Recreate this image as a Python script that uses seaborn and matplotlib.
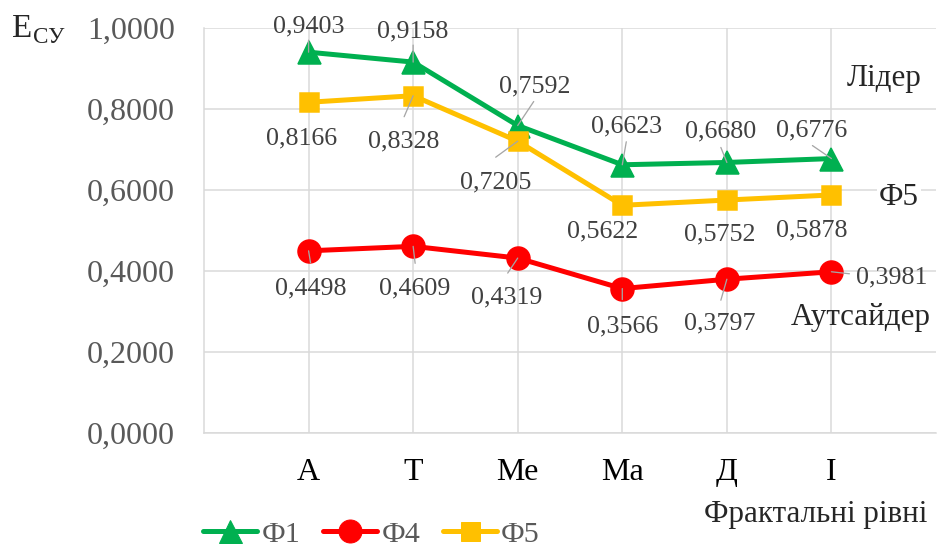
import matplotlib
matplotlib.use("Agg")
import matplotlib.pyplot as plt
from matplotlib.lines import Line2D
import seaborn as sns
import pandas as pd

# fractal levels (x categories)
levels = ["А", "Т", "Ме", "Ма", "Д", "І"]

# series values
f1 = [0.9403, 0.9158, 0.7592, 0.6623, 0.6680, 0.6776]
f4 = [0.4498, 0.4609, 0.4319, 0.3566, 0.3797, 0.3981]
f5 = [0.8166, 0.8328, 0.7205, 0.5622, 0.5752, 0.5878]

series_names = ["Ф1", "Ф4", "Ф5"]
y_ticks = [0.0, 0.2, 0.4, 0.6, 0.8, 1.0]

# styles
colors = {"Ф1": "#00B050", "Ф4": "#FF0000", "Ф5": "#FFC000"}
markers = {"Ф1": "^", "Ф4": "o", "Ф5": "s"}
msizes = {"Ф1": 23, "Ф4": 23, "Ф5": 19}

# data label offsets (px, baseline) and leader line ends (px) or None
label_pos = {
    "Ф1": [(0, 20), (0, 25), (17, 33), (4, 32), (-6, 25), (-20, 22)],
    "Ф4": [(2, -44), (2, -48), (-11, -45), (0, -44), (-7, -50), (60, -12)],
    "Ф5": [(-7, -42), (-9, -52), (-22, -47), (-20, -32), (-7, -40), (-20, -42)],
}
leaders = {
    "Ф1": [(0, 12), (0, 17), (16, 24), (4, 23), (-6, 15), (-19, 13)],
    "Ф4": [(2, -12), (2, -17), (-10, -15), (0, -11), (-6, -21), (18, -2)],
    "Ф5": [None, (-9, -21), (-22, -16), None, None, None],
}

df = pd.DataFrame({"pos": range(len(levels)), "level": levels,
                   "Ф1": f1, "Ф4": f4, "Ф5": f5})
df = df.melt(id_vars=["pos", "level"], var_name="series", value_name="value")

sns.set_style("whitegrid")
plt.rcParams["font.family"] = ["Liberation Serif", "DejaVu Serif"]

fig = plt.figure(figsize=(937 / 72, 549 / 72), dpi=72)
ax = fig.add_axes([204 / 937, 1 - 433 / 549, 732 / 937, 405 / 549])

for name in series_names:
    sub = df[df["series"] == name]
    c = colors[name]
    sns.lineplot(data=sub, x="pos", y="value", ax=ax, color=c, lw=5,
                 marker=markers[name], markersize=msizes[name],
                 markeredgecolor=c, markerfacecolor=c, markeredgewidth=1.5,
                 legend=False, sort=False)
    for k, (x, v) in enumerate(zip(sub["pos"], sub["value"])):
        dx, dy = label_pos[name][k]
        ax.annotate(f"{v:.4f}".replace(".", ","), xy=(x, v), xytext=(dx, dy),
                    textcoords="offset points", ha="center", va="baseline",
                    fontsize=26, color="#404040", zorder=6)
        if leaders[name][k] is not None:
            ax.annotate("", xy=(x, v), xytext=leaders[name][k],
                        textcoords="offset points",
                        arrowprops=dict(arrowstyle="-", color="#A6A6A6", lw=1.3,
                                        shrinkA=0, shrinkB=0), zorder=5)

ax.set_xlim(-1, 6)
ax.set_ylim(0, 1)
ax.set_xticks(range(len(levels)))
ax.set_xticklabels(levels)
ax.set_yticks(y_ticks)
ax.set_yticklabels([f"{t:.4f}".replace(".", ",") for t in y_ticks])
ax.set_xlabel("")
ax.set_ylabel("")
ax.grid(True, color="#D9D9D9", lw=1.5)
ax.tick_params(axis="y", length=0, pad=29, labelsize=32, labelcolor="#595959")
ax.tick_params(axis="x", length=0, pad=25, labelsize=32, labelcolor="#000000")
for s in ["top", "right"]:
    ax.spines[s].set_visible(False)
for s in ["left", "bottom"]:
    ax.spines[s].set_color("#D9D9D9")
    ax.spines[s].set_linewidth(1.5)

# axis titles and zone labels
fig.text(12 / 937, 1 - 37 / 549, "Е", fontsize=33, va="baseline", ha="left")
fig.text(33 / 937, 1 - 43 / 549, "СУ", fontsize=23, va="baseline", ha="left")
fig.text(816 / 937, 1 - 522 / 549, "Фрактальні рівні", fontsize=31,
         ha="center", va="baseline")
fig.text(884 / 937, 1 - 86 / 549, "Лідер", fontsize=31, ha="center",
         va="baseline")
fig.text(899 / 937, 1 - 205 / 549, "Ф5", fontsize=31, ha="center",
         va="baseline", bbox=dict(fc="white", ec="none", pad=2))
fig.text(861 / 937, 1 - 325 / 549, "Аутсайдер", fontsize=31, ha="center",
         va="baseline")

handles = [Line2D([], [], color=colors[n], lw=5, marker=markers[n],
                  markersize=msizes[n], markeredgecolor=colors[n])
           for n in series_names]
leg = fig.legend(handles, series_names, loc="center left",
                 bbox_to_anchor=(203 / 937, 1 - 534 / 549), ncol=3,
                 frameon=False, fontsize=30, handlelength=1.8,
                 handletextpad=0.15, columnspacing=0.75, borderpad=0,
                 borderaxespad=0)
for t in leg.get_texts():
    t.set_color("#595959")

fig.savefig("out.png", dpi=72)
